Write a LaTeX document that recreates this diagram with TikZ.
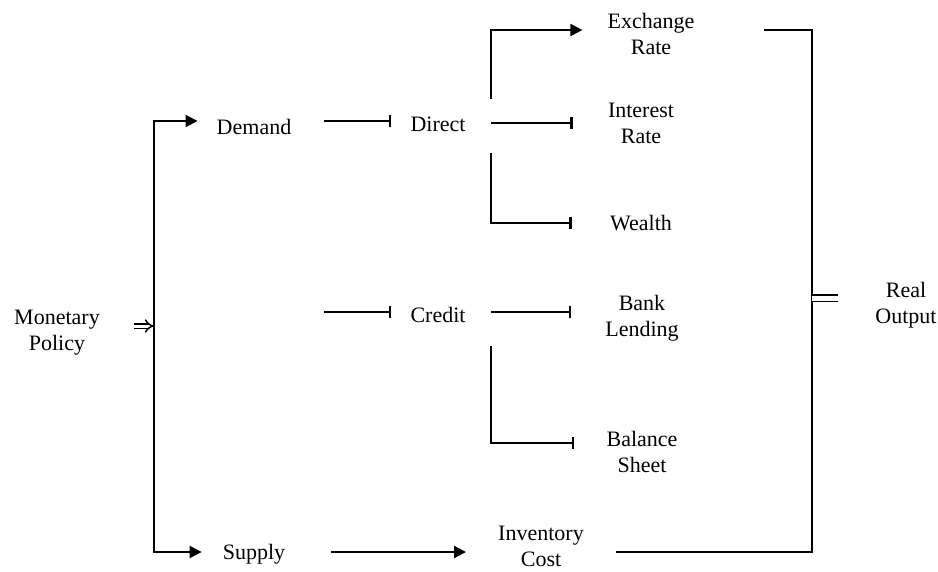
\documentclass[tikz,border=0pt]{standalone}
\usepackage{fontspec}
\setmainfont{Liberation Serif}
\usepackage{tikz}
\usetikzlibrary{arrows.meta}
\usetikzlibrary{scopes}

\begin{document}
\begin{tikzpicture}[x=1pt,y=-1pt]
\useasboundingbox (0,0) rectangle (938,571);
\begin{scope}[every node/.style={anchor=base,inner sep=0pt,align=center,
              font=\fontsize{22}{26}\selectfont}]
    \node (MP) at (57,350) {Monetary\\Policy};
    \node (D) at (254,134) {Demand};
    \node (S) at (254,559) {Supply};
    \node (Dir) at (438,131) {Direct};
    \node (Cr) at (438,322) {Credit};
    \node (ER) at (651,54) {Exchange\\Rate};
    \node (IR) at (641,143) {Interest\\Rate};
    \node (W) at (641,230) {Wealth};
    \node (BL) at (642,336) {Bank\\Lending};
    \node (BS) at (642,472) {Balance\\Sheet};
    \node (IC) at (541,566) {Inventory\\Cost};
    \node (RO) at (906,323) {Real\\Output};
\end{scope}

\coordinate (btop) at (154,121);
\coordinate (bmid) at (154,326);
\coordinate (bbot) at (154,552);
\coordinate (dA) at (491,30);
\coordinate (dB) at (491,99);
\coordinate (dC) at (491,123);
\coordinate (dD) at (491,153);
\coordinate (cA) at (491,312);
\coordinate (cB) at (491,346);
\coordinate (cC) at (491,443);
\coordinate (rTop) at (812,30);
\coordinate (rEq) at (812,298);
\coordinate (rBot) at (812,552);

\begin{scope}[line width=2pt,>={Triangle[length=12pt,width=12pt]},
              blocked/.style={-{Bar[width=12pt,line width=2.6pt]}}]
    \draw [double,line width=1.5pt,double distance=3pt,-{Implies[scale=1.2]},
           shorten <=34pt] (MP.east |- bmid) -- (bmid);
    \draw [<->,shorten <=19pt,shorten >=21pt]
          (D.west |- btop) -- (btop) -- (bbot) -- (S.west |- bbot);
    \draw [blocked,shorten <=33pt,shorten >=19pt] (D.east |- btop) -- (Dir.west |- btop);
    \draw [blocked,shorten <=33pt,shorten >=19pt] (D.east |- cA) -- (Cr.west |- cA);
    \draw [->,shorten >=25pt] (dB) |- (ER.west |- dA);
    \draw [blocked,shorten >=35pt] (dC) -- (IR.west |- dC);
    \draw [blocked,shorten >=38pt] (dD) |- (W.west);
    \draw [blocked,shorten >=34pt] (cA) -- (BL.west |- cA);
    \draw [blocked,shorten >=32pt] (cB) |- (BS.west |- cC);
    \draw [->,shorten <=46pt,shorten >=32pt] (S.east |- bbot) -- (IC.west |- bbot);
    \draw [shorten <=69pt,shorten >=32pt]
          (ER.east |- dA) -- (rTop) -- (rBot) -- (IC.east |- bbot);
    \draw [double,line width=1.8pt,double distance=5pt,shorten >=37pt] (rEq) -- (RO.west |- rEq);
\end{scope}
\end{tikzpicture}
\end{document}
